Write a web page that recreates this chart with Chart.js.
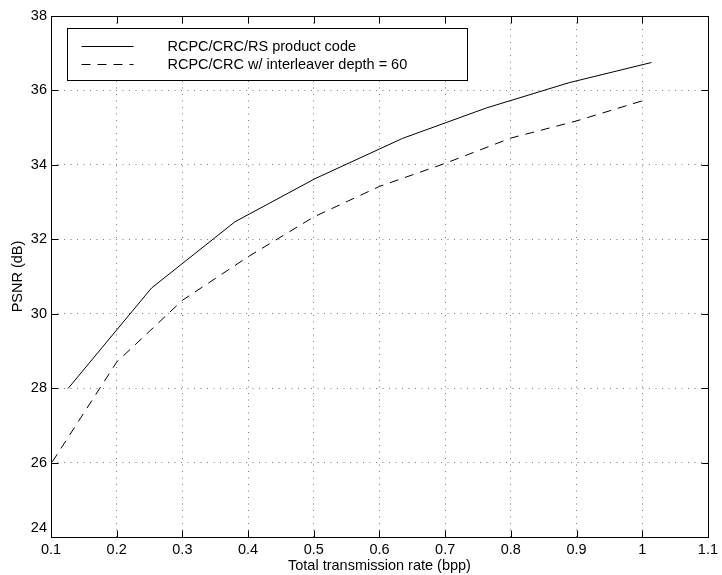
<!DOCTYPE html>
<html><head><meta charset="utf-8">
<script src="https://cdn.jsdelivr.net/npm/chart.js@4.4.1/dist/chart.umd.min.js"></script>
<style>html,body{margin:0;padding:0;background:#fff}#wrap{width:722px;height:575px;position:relative}canvas{display:block}</style>
</head><body><div id="wrap"><canvas id="c" width="722" height="575"></canvas></div>
<script>
const seriesNames = ['RCPC/CRC/RS product code', 'RCPC/CRC w/ interleaver depth = 60'];
const productX = [0.126, 0.253, 0.380, 0.502, 0.635, 0.763, 0.889, 1.014];
const productY = [27.99, 30.69, 32.47, 33.63, 34.71, 35.53, 36.21, 36.75];
const interleaverX = [0.102, 0.2, 0.3, 0.4, 0.5, 0.6, 0.7, 0.8, 0.9, 1.0];
const interleaverY = [26.02, 28.70, 30.36, 31.53, 32.60, 33.42, 34.04, 34.72, 35.18, 35.72];
const xTicks = [0.1, 0.2, 0.3, 0.4, 0.5, 0.6, 0.7, 0.8, 0.9, 1.0, 1.1];
const yTicks = [24, 26, 28, 30, 32, 34, 36, 38];
const xTitle = 'Total transmission rate (bpp)';
const yTitle = 'PSNR (dB)';

const FONT = '"Liberation Sans", Arial, Helvetica, sans-serif';
const toPts = (xs, ys) => xs.map((x, i) => ({x: x, y: ys[i]}));

function innerGrid(ctx) {
  const s = ctx.scale;
  const v = ctx.tick ? ctx.tick.value : null;
  if (v === null || Math.abs(v - s.min) < 1e-9 || Math.abs(v - s.max) < 1e-9) return 'rgba(0,0,0,0)';
  return '#7a7a7a';
}

const framePlugin = {
  id: 'frame',
  afterDraw(chart) {
    const {ctx, chartArea: a, scales} = chart;
    ctx.save();
    ctx.strokeStyle = '#000';
    ctx.lineWidth = 1;
    ctx.setLineDash([]);
    const L = Math.round(a.left) + 0.5, R = Math.round(a.right) + 0.5;
    const T = Math.round(a.top) + 0.5, B = Math.round(a.bottom) + 0.5;
    ctx.strokeRect(L, T, R - L, B - T);
    const tl = 7;
    ctx.beginPath();
    scales.x.ticks.forEach(t => {
      const px = Math.round(scales.x.getPixelForValue(t.value)) + 0.5;
      ctx.moveTo(px, B); ctx.lineTo(px, B - tl);
      ctx.moveTo(px, T); ctx.lineTo(px, T + tl);
    });
    scales.y.ticks.forEach(t => {
      const py = Math.round(scales.y.getPixelForValue(t.value)) + 0.5;
      ctx.moveTo(L, py); ctx.lineTo(L + tl, py);
      ctx.moveTo(R, py); ctx.lineTo(R - tl, py);
    });
    ctx.stroke();

    // legend box
    const bx = L + 16, by = T + 12, bw = 400, bh = 52;
    ctx.fillStyle = '#fff';
    ctx.fillRect(bx, by, bw, bh);
    ctx.strokeRect(bx, by, bw, bh);
    ctx.font = '14.5px ' + FONT;
    ctx.textBaseline = 'middle';
    ctx.textAlign = 'left';
    ctx.fillStyle = '#000';
    chart.data.datasets.forEach((ds, i) => {
      const ly = Math.round(by + 17 + i * 18) + 0.5;
      ctx.save();
      ctx.strokeStyle = ds.borderColor;
      ctx.lineWidth = ds.borderWidth;
      ctx.setLineDash(ds.borderDash || []);
      ctx.beginPath();
      ctx.moveTo(bx + 14, ly); ctx.lineTo(bx + 66, ly);
      ctx.stroke();
      ctx.restore();
      ctx.fillText(ds.label, bx + 100, ly);
    });
    ctx.restore();
  }
};

new Chart(document.getElementById('c'), {
  type: 'line',
  data: {
    datasets: [
      {label: seriesNames[0], data: toPts(productX, productY), borderColor: '#000', borderWidth: 1, pointRadius: 0, fill: false, tension: 0},
      {label: seriesNames[1], data: toPts(interleaverX, interleaverY), borderColor: '#000', borderWidth: 1, borderDash: [9, 7], pointRadius: 0, fill: false, tension: 0}
    ]
  },
  options: {
    responsive: false,
    animation: false,
    devicePixelRatio: 1,
    layout: {padding: {top: 16, right: 10, left: 0, bottom: 0}},
    plugins: {legend: {display: false}, tooltip: {enabled: false}},
    scales: {
      x: {
        type: 'linear', min: xTicks[0], max: xTicks[xTicks.length - 1],
        afterBuildTicks: s => { s.ticks = xTicks.map(v => ({value: v})); },
        afterFit: s => { s.height = 38; },
        ticks: {
          callback: v => String(Number(v.toFixed(2))),
          color: '#000', font: {family: FONT, size: 14.5}, padding: 4,
          maxRotation: 0, minRotation: 0, autoSkip: false
        },
        grid: {color: innerGrid, lineWidth: 1, drawTicks: false},
        border: {display: false, dash: [1, 5.5]},
        title: {display: true, text: xTitle, color: '#000', font: {family: FONT, size: 14.5}, padding: {top: 0, bottom: 0}}
      },
      y: {
        type: 'linear', min: yTicks[0], max: yTicks[yTicks.length - 1],
        afterBuildTicks: s => { s.ticks = yTicks.map(v => ({value: v})); },
        afterFit: s => { s.width = 51; },
        ticks: {
          callback: v => (v === yTicks[0] ? [String(v), ''] : String(v)),
          color: '#000', font: {family: FONT, size: 14.5}, padding: 4, autoSkip: false
        },
        grid: {color: innerGrid, lineWidth: 1, drawTicks: false},
        border: {display: false, dash: [1, 5.5]},
        title: {display: true, text: yTitle, color: '#000', font: {family: FONT, size: 14.5}, padding: {top: 9, bottom: 0}}
      }
    }
  },
  plugins: [framePlugin]
});
</script>
</body></html>
